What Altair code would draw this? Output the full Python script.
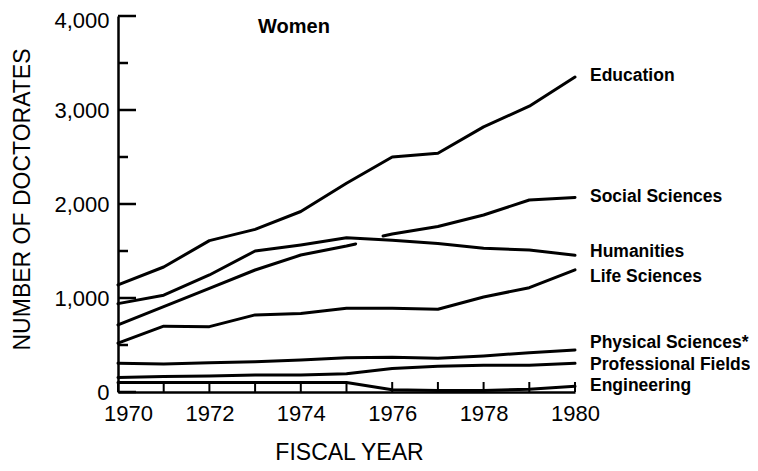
import altair as alt
import pandas as pd

# ---- data ----
years = [1970, 1971, 1972, 1973, 1974, 1975, 1976, 1977, 1978, 1979, 1980]
education = [1140, 1330, 1610, 1730, 1920, 2220, 2500, 2540, 2820, 3040, 3350]
humanities = [940, 1030, 1245, 1500, 1565, 1640, 1615, 1580, 1530, 1510, 1455]
life_sciences = [520, 700, 695, 820, 835, 890, 890, 880, 1010, 1110, 1300]
physical_sciences = [305, 298, 312, 323, 340, 365, 370, 358, 383, 418, 447]
professional_fields = [155, 165, 170, 180, 180, 195, 250, 275, 285, 285, 305]
engineering = [100, 100, 100, 100, 100, 100, 25, 15, 15, 30, 60]

# Social Sciences is drawn in two pieces (broken where Humanities crosses)
social_years_a = [1970, 1971, 1972, 1973, 1974, 1975, 1975.2]
social_a = [713, 908, 1103, 1298, 1457, 1553, 1575]
social_years_b = [1975.8, 1976, 1977, 1978, 1979, 1980]
social_b = [1660, 1680, 1760, 1883, 2043, 2070]

label_names = ["Education", "Social Sciences", "Humanities", "Life Sciences",
               "Physical Sciences*", "Professional Fields", "Engineering"]
label_values = [3362, 2074, 1489, 1223, 521, 287, 64]

y_major_ticks = [0, 1000, 2000, 3000, 4000]
y_minor_ticks = [500, 1500, 2500, 3500]
x_tick_years = years
x_label_years = [1970, 1972, 1974, 1976, 1978, 1980]
title_text = ["Women"]

# ---- build table ----
rows = []
for name, vals in [("Education", education), ("Humanities", humanities),
                   ("Life Sciences", life_sciences),
                   ("Physical Sciences*", physical_sciences),
                   ("Professional Fields", professional_fields),
                   ("Engineering", engineering)]:
    for yr, v in zip(years, vals):
        rows.append({"year": yr, "value": v, "seg": name})
for yr, v in zip(social_years_a, social_a):
    rows.append({"year": yr, "value": v, "seg": "Social Sciences A"})
for yr, v in zip(social_years_b, social_b):
    rows.append({"year": yr, "value": v, "seg": "Social Sciences B"})
df = pd.DataFrame(rows)

labels_df = pd.DataFrame({"year": [years[-1]] * len(label_names),
                          "value": label_values, "name": label_names})
ymaj_df = pd.DataFrame({"value": y_major_ticks})
ymin_df = pd.DataFrame({"value": y_minor_ticks})
xt_df = pd.DataFrame({"year": x_tick_years})
title_df = pd.DataFrame({"t": title_text})

W, H = 457, 376
FONT = "Liberation Sans"

xscale = alt.Scale(domain=[1970, 1980], nice=False, zero=False)
yscale = alt.Scale(domain=[0, 4000], nice=False)

x_axis = alt.Axis(values=x_label_years, format="d", ticks=False, tickSize=0,
                  labelPadding=11, labelFontSize=22, labelFont=FONT,
                  labelColor="black", domainColor="black", domainWidth=2.5,
                  grid=False, labelFlush=False, labelOverlap=False,
                  labelOffset={"condition": {"test": "datum.value == 1970", "value": 10}, "value": 0},
                  title="FISCAL YEAR", titleFont=FONT, titleFontSize=23,
                  titleFontWeight="normal", titleColor="black",
                  titleX=231, titleY=60, titleBaseline="middle", titleAlign="center")
y_axis = alt.Axis(values=y_major_ticks, format=",d", ticks=False, tickSize=0,
                  labelPadding=9, labelFontSize=22, labelFont=FONT,
                  labelColor="black", domainColor="black", domainWidth=2.5,
                  grid=False, labelFlush=False, labelOverlap=False,
                  labelOffset={"condition": {"test": "datum.value == 4000", "value": 4}, "value": 0},
                  title="NUMBER OF DOCTORATES", titleFont=FONT, titleFontSize=23,
                  titleFontWeight="normal", titleColor="black",
                  titleAngle=270, titleX=-96, titleY=183,
                  titleBaseline="middle", titleAlign="center")

X = alt.X("year:Q", scale=xscale, axis=x_axis, title="FISCAL YEAR")
Y = alt.Y("value:Q", scale=yscale, axis=y_axis, title="NUMBER OF DOCTORATES")

lines = alt.Chart(df).mark_line(color="black", strokeWidth=3,
                                strokeCap="round", strokeJoin="round").encode(
    x=X, y=Y, detail="seg:N",
)

labels = alt.Chart(labels_df).mark_text(align="left", baseline="middle", dx=15,
                                        font=FONT, fontSize=17.5, fontWeight="bold",
                                        color="black").encode(
    x=X, y=Y, text="name:N",
)

ymaj = alt.Chart(ymaj_df).mark_rule(color="black", strokeWidth=2.5).encode(
    y=Y, x=alt.value(0), x2=alt.value(18))
ymin = alt.Chart(ymin_df).mark_rule(color="black", strokeWidth=2.5).encode(
    y=Y, x=alt.value(0), x2=alt.value(10))
xt = alt.Chart(xt_df).mark_rule(color="black", strokeWidth=2).encode(
    x=X, y=alt.value(H), y2=alt.value(H - 10))

title = alt.Chart(title_df).mark_text(font=FONT, fontSize=20, fontWeight="bold",
                                      color="black", align="center",
                                      baseline="middle").encode(
    x=alt.value(176), y=alt.value(11), text="t:N")

chart = alt.layer(lines, labels, ymaj, ymin, xt, title).properties(
    width=W, height=H,
    autosize=alt.AutoSizeParams(type="none"),
    padding={"left": 110, "top": 8, "right": 175, "bottom": 71},
    background="white",
).configure_view(stroke=None)

chart.save("out.html", embed_options={"renderer": "svg", "actions": False})
